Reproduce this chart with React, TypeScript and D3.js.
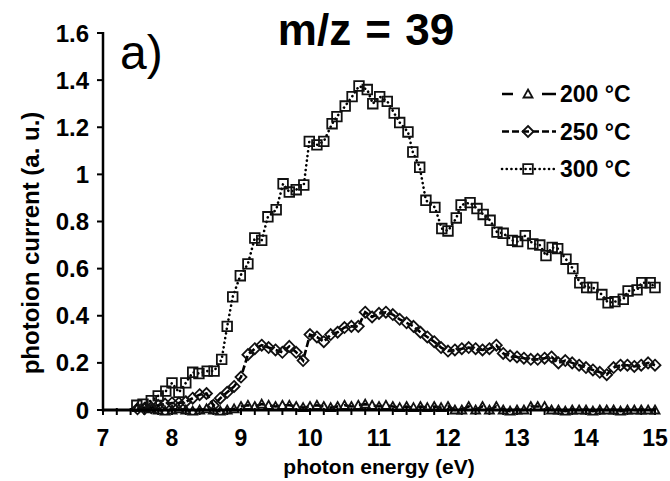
import { useEffect, useRef } from 'react';
import { line, scaleLinear, select, range } from 'd3';

// photon energy grid (eV) for the 200 °C and 250 °C scans
const energyGrid = [
  7.5, 7.6, 7.7, 7.8, 7.9, 8.0, 8.1, 8.2, 8.3, 8.4, 8.5, 8.6, 8.7, 8.8, 8.9,
  9.0, 9.1, 9.2, 9.3, 9.4, 9.5, 9.6, 9.7, 9.8, 9.9, 10.0, 10.1, 10.2, 10.3,
  10.4, 10.5, 10.6, 10.7, 10.8, 10.9, 11.0, 11.1, 11.2, 11.3, 11.4, 11.5,
  11.6, 11.7, 11.8, 11.9, 12.0, 12.1, 12.2, 12.3, 12.4, 12.5, 12.6, 12.7,
  12.8, 12.9, 13.0, 13.1, 13.2, 13.3, 13.4, 13.5, 13.6, 13.7, 13.8, 13.9,
  14.0, 14.1, 14.2, 14.3, 14.4, 14.5, 14.6, 14.7, 14.8, 14.9, 15.0,
];

const current200 = [
  0.01, 0.01, 0.005, 0.0, -0.005, 0.0, 0.005, 0.0, -0.005, 0.0, 0.005, 0.0,
  -0.005, 0.0, 0.005, 0.015, 0.02, 0.015, 0.025, 0.02, 0.015, 0.02, 0.02,
  0.015, 0.01, 0.015, 0.02, 0.015, 0.01, 0.015, 0.02, 0.015, 0.02, 0.025,
  0.02, 0.015, 0.02, 0.015, 0.01, 0.015, 0.01, 0.015, 0.01, 0.015, 0.01,
  0.015, 0.0, 0.0, 0.015, 0.0, 0.015, 0.0, 0.015, 0.0, -0.005, 0.0, 0.0,
  0.015, 0.015, 0.015, 0.0, 0.0, -0.005, 0.0, 0.0, 0.0, -0.005, 0.0, 0.0,
  0.0, -0.005, 0.0, 0.0, 0.0, 0.0, 0.0,
];

const current250 = [
  0.005, 0.005, 0.01, 0.02, 0.025, 0.03, 0.03, 0.035, 0.05, 0.065, 0.07,
  0.02, 0.05, 0.075, 0.1, 0.14, 0.235, 0.26, 0.275, 0.265, 0.255, 0.245,
  0.27, 0.245, 0.21, 0.32, 0.31, 0.29, 0.32, 0.33, 0.35, 0.355, 0.355,
  0.415, 0.395, 0.41, 0.415, 0.405, 0.385, 0.37, 0.355, 0.33, 0.31, 0.29,
  0.265, 0.25, 0.255, 0.26, 0.265, 0.26, 0.255, 0.26, 0.275, 0.24, 0.23,
  0.225, 0.22, 0.215, 0.215, 0.22, 0.225, 0.2, 0.21, 0.2, 0.19, 0.18, 0.17,
  0.16, 0.15, 0.18, 0.19, 0.19, 0.185, 0.19, 0.2, 0.19,
];

// the 300 °C scan has its own (slightly uneven) energy steps
const energy300 = [
  7.49, 7.58, 7.7, 7.8, 7.91, 8.0, 8.1, 8.2, 8.3, 8.39, 8.51, 8.61, 8.72,
  8.8, 8.88, 8.99, 9.1, 9.2, 9.3, 9.39, 9.51, 9.61, 9.7, 9.8, 9.91, 9.99,
  10.1, 10.2, 10.32, 10.39, 10.51, 10.61, 10.71, 10.83, 10.91, 11.01, 11.12,
  11.22, 11.3, 11.42, 11.49, 11.59, 11.68, 11.81, 11.91, 12.0, 12.12, 12.19,
  12.32, 12.42, 12.51, 12.61, 12.71, 12.8, 12.93, 13.01, 13.12, 13.23, 13.33,
  13.42, 13.51, 13.59, 13.71, 13.81, 13.91, 14.01, 14.1, 14.23, 14.32, 14.42,
  14.54, 14.61, 14.74, 14.81, 14.93, 15.0,
];

const current300 = [
  0.02, 0.025, 0.04, 0.06, 0.08, 0.115, 0.075, 0.115, 0.16, 0.155, 0.165,
  0.165, 0.215, 0.355, 0.48, 0.57, 0.62, 0.73, 0.72, 0.82, 0.85, 0.96, 0.925,
  0.935, 0.955, 1.14, 1.125, 1.14, 1.215, 1.245, 1.29, 1.33, 1.375, 1.36,
  1.3, 1.33, 1.31, 1.26, 1.22, 1.18, 1.095, 1.03, 0.89, 0.86, 0.77, 0.76,
  0.815, 0.87, 0.88, 0.855, 0.83, 0.805, 0.755, 0.75, 0.72, 0.715, 0.74,
  0.705, 0.7, 0.655, 0.69, 0.685, 0.64, 0.6, 0.54, 0.52, 0.52, 0.49, 0.455,
  0.46, 0.47, 0.505, 0.51, 0.54, 0.54, 0.52,
];

const yTicks = [0, 0.2, 0.4, 0.6, 0.8, 1, 1.2, 1.4, 1.6];
const xTicks = [7, 8, 9, 10, 11, 12, 13, 14, 15];
const seriesNames = ['200 °C', '250 °C', '300 °C'];

const FONT = "'Liberation Sans', Arial, sans-serif";

function markerPath(kind: string) {
  if (kind === 'square') return 'M-4.8,-4.8H4.8V4.8H-4.8Z';
  if (kind === 'diamond') return 'M0,-5.5L5.5,0L0,5.5L-5.5,0Z';
  return 'M0,-4.5L4.5,3.5H-4.5Z';
}

export default function App() {
  const svgRef = useRef<SVGSVGElement>(null);

  useEffect(() => {
    const width = 670;
    const height = 481;

    const svg = select(svgRef.current);
    svg.selectAll('*').remove();
    svg.attr('width', width).attr('height', height);

    const x = scaleLinear().domain([7, 15]).range([103, 655]);
    const y = scaleLinear().domain([0, 1.6]).range([410, 33]);

    const series = [
      { name: seriesNames[0], xs: energyGrid, ys: current200, marker: 'triangle', dash: '9 6', legendDash: '11 29 14', cap: 'butt' },
      { name: seriesNames[1], xs: energyGrid, ys: current250, marker: 'diamond', dash: '7 3', legendDash: '7 3', cap: 'butt' },
      { name: seriesNames[2], xs: energy300, ys: current300, marker: 'square', dash: '0.1 4.6', legendDash: '0.1 4.6', cap: 'round' },
    ];

    // axes
    const ax = svg.append('g').attr('stroke', '#000');
    ax.append('line')
      .attr('x1', x(7)).attr('x2', x(7))
      .attr('y1', y(1.6) - 1).attr('y2', y(0) + 1.5)
      .attr('stroke-width', 2.5);
    yTicks.forEach((t) => {
      ax.append('line')
        .attr('x1', x(7) - 6).attr('x2', x(7))
        .attr('y1', y(t)).attr('y2', y(t))
        .attr('stroke-width', 2);
    });
    range(0, 41).forEach((i) => {
      const v = 7 + i * 0.2;
      ax.append('line')
        .attr('x1', x(v)).attr('x2', x(v))
        .attr('y1', y(0) - 2).attr('y2', y(0) + 5)
        .attr('stroke-width', 2);
    });

    const labels = svg.append('g')
      .attr('font-family', FONT)
      .attr('font-weight', 'bold')
      .attr('fill', '#000');

    yTicks.forEach((t) => {
      labels.append('text')
        .attr('x', 89).attr('y', y(t) + 8.5)
        .attr('text-anchor', 'end')
        .attr('font-size', 24)
        .text(String(t));
    });
    xTicks.forEach((t) => {
      labels.append('text')
        .attr('x', x(t)).attr('y', 446)
        .attr('text-anchor', 'middle')
        .attr('font-size', 23)
        .text(String(t));
    });

    labels.append('text')
      .attr('x', 379).attr('y', 474)
      .attr('text-anchor', 'middle')
      .attr('font-size', 21)
      .text('photon energy (eV)');

    labels.append('text')
      .attr('transform', 'translate(39,243) rotate(-90)')
      .attr('text-anchor', 'middle')
      .attr('font-size', 24)
      .text('photoion current (a. u.)');

    labels.append('text')
      .attr('x', 366).attr('y', 45)
      .attr('text-anchor', 'middle')
      .attr('font-size', 44)
      .attr('word-spacing', 2)
      .text('m/z = 39');

    svg.append('text')
      .attr('x', 120).attr('y', 69)
      .attr('font-family', FONT)
      .attr('font-size', 48)
      .text('a)');

    // data series
    series.forEach((s) => {
      const pts = s.xs.map((e, i) => [e, s.ys[i]] as [number, number]);
      const path = line<[number, number]>()
        .x((d) => x(d[0]))
        .y((d) => y(d[1]));
      const g = svg.append('g');
      g.append('path')
        .attr('d', path(pts))
        .attr('fill', 'none')
        .attr('stroke', '#000')
        .attr('stroke-width', 2.6)
        .attr('stroke-dasharray', s.dash)
        .attr('stroke-linecap', s.cap);
      g.selectAll('path.mk')
        .data(pts)
        .enter()
        .append('path')
        .attr('class', 'mk')
        .attr('d', markerPath(s.marker))
        .attr('transform', (d) => `translate(${x(d[0])},${y(d[1])})`)
        .attr('fill', 'none')
        .attr('stroke', '#111')
        .attr('stroke-width', 1.8);
    });

    // x axis line drawn over the markers sitting at zero
    svg.append('line')
      .attr('x1', x(7)).attr('x2', x(15))
      .attr('y1', y(0)).attr('y2', y(0))
      .attr('stroke', '#000')
      .attr('stroke-width', 3);

    // legend
    const legend = svg.append('g');
    series.forEach((s, i) => {
      const ly = 94 + i * 37.5;
      legend.append('line')
        .attr('x1', 502).attr('x2', 556)
        .attr('y1', ly).attr('y2', ly)
        .attr('stroke', '#000')
        .attr('stroke-width', 2.6)
        .attr('stroke-dasharray', s.legendDash)
        .attr('stroke-linecap', s.cap);
      legend.append('path')
        .attr('d', markerPath(s.marker))
        .attr('transform', `translate(528,${ly})`)
        .attr('fill', 'none')
        .attr('stroke', '#111')
        .attr('stroke-width', 1.8);
      legend.append('text')
        .attr('x', 560).attr('y', ly + 8)
        .attr('font-family', FONT)
        .attr('font-weight', 'bold')
        .attr('font-size', 23)
        .text(s.name);
    });
  }, []);

  return (
    <div style={{ position: 'absolute', left: 0, top: 0 }}>
      <svg ref={svgRef} style={{ display: 'block', background: '#fff' }}></svg>
    </div>
  );
}
